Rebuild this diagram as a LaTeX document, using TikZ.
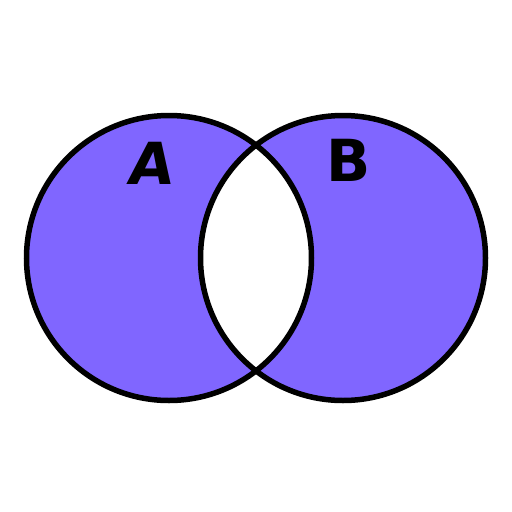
\documentclass[tikz,border=0pt]{standalone}
\usepackage{fontspec}
\newfontfamily\lblfont{DejaVu Sans}
\definecolor{venn}{HTML}{8066FF}
\begin{document}
\begin{tikzpicture}[x=1pt,y=-1pt,
  setline/.style={line width=5.5pt,draw=black},
  lbl/.style={font=\lblfont\bfseries\fontsize{58}{58}\selectfont,inner sep=0pt}]
\useasboundingbox (0,0) rectangle (512,512);
\fill[venn,even odd rule] (169,258) circle (142.5) (343,258) circle (142.5);
\draw[setline] (169,258) circle (142.5);
\draw[setline] (343,258) circle (142.5);
\node[lbl,xslant=0.15] (a) at (152,163) {A};
\node[lbl] (b) at (349,160) {B};
\end{tikzpicture}
\end{document}
